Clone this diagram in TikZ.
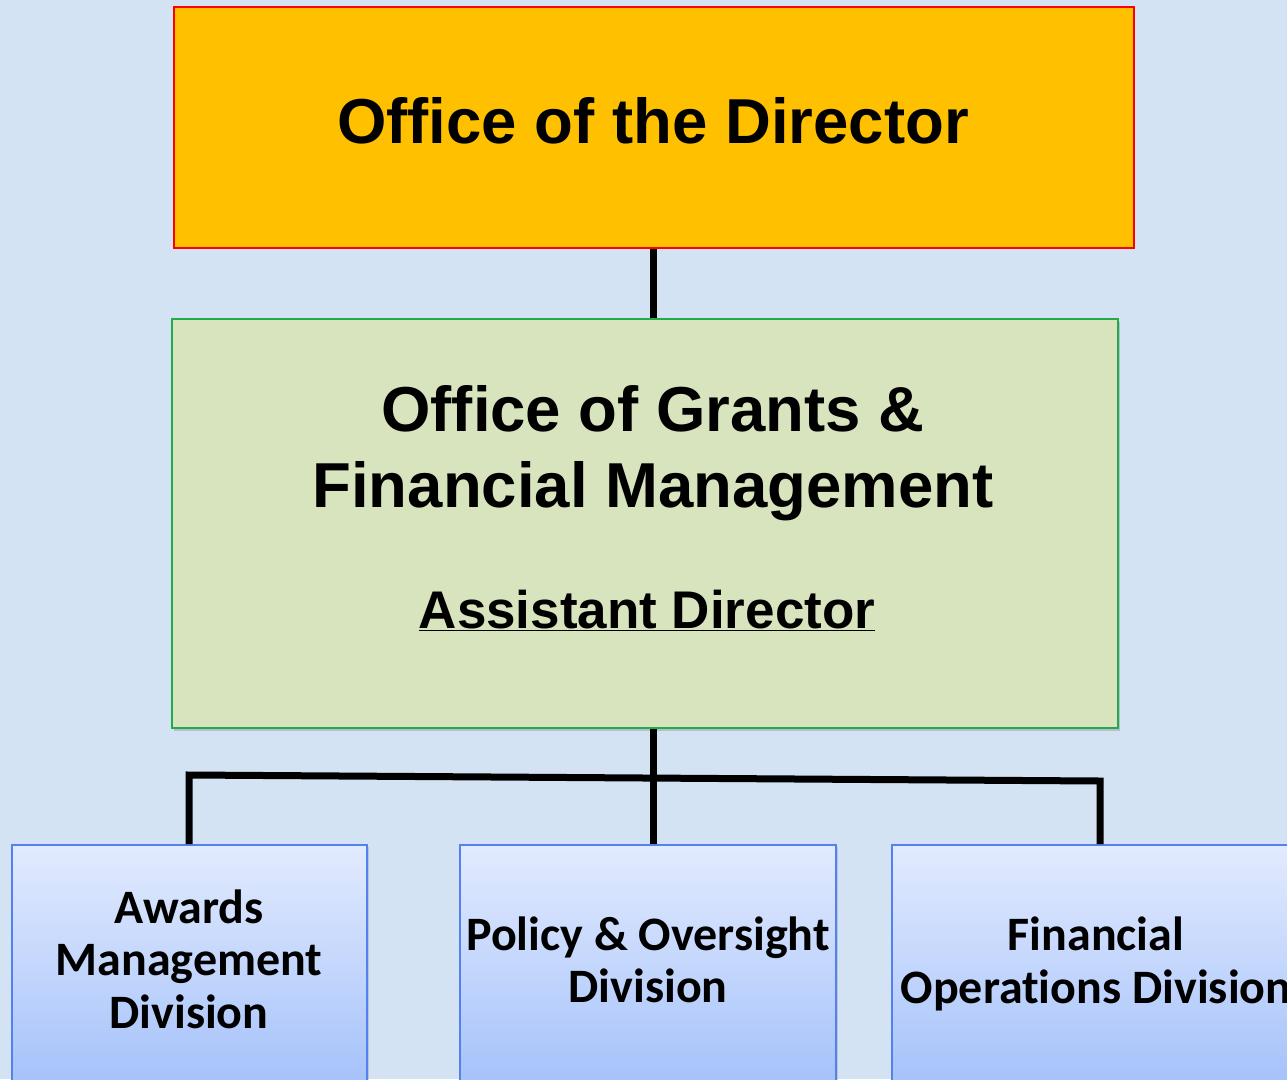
\documentclass[tikz,border=0pt]{standalone}
\usepackage{fontspec}
\setmainfont{Liberation Sans}
\newfontfamily\calib[Ligatures=NoCommon]{Carlito}
\usetikzlibrary{shadows,calc}
\definecolor{bg}{RGB}{211,227,243}
\definecolor{gold}{RGB}{255,192,0}
\definecolor{lgreen}{RGB}{215,228,189}
\definecolor{dgreen}{RGB}{34,170,76}
\definecolor{btop}{RGB}{226,235,254}
\definecolor{bbot}{RGB}{160,190,250}
\definecolor{bedge}{RGB}{84,128,240}
\tikzset{
  topbox/.style={draw=red, line width=1.5pt, fill=gold, rectangle, inner sep=0pt, anchor=north west},
  greenbox/.style={draw=dgreen, line width=2pt, fill=lgreen, rectangle, inner sep=0pt, anchor=north west,
    drop shadow={opacity=0.35, shadow xshift=2pt, shadow yshift=-3pt}},
  bluebox/.style={draw=bedge, line width=2pt, top color=btop, bottom color=bbot, rectangle, inner sep=0pt, anchor=north west,
    drop shadow={opacity=0.3, shadow xshift=2pt, shadow yshift=-2pt}},
  conn/.style={line width=7pt, black, line join=miter},
  bigtxt/.style={inner sep=0pt, anchor=base, font=\bfseries\fontsize{63.5}{76}\selectfont},
  subtxt/.style={inner sep=0pt, anchor=base, font=\bfseries\fontsize{53}{60}\selectfont},
  divtxt/.style={inner sep=0pt, anchor=center, align=center, font=\calib\bfseries\fontsize{48}{52.5}\selectfont}
}
\begin{document}
\begin{tikzpicture}[x=1pt,y=-1pt]
\useasboundingbox (0,0) rectangle (1287,1079);
\clip (0,0) rectangle (1287,1079);
\fill[bg] (0,0) rectangle (1287,1079);

% boxes
\node[topbox, minimum width=960pt, minimum height=241pt] (od) at (173,6) {};
\node[greenbox, minimum width=946pt, minimum height=409pt] (gm) at (171,318) {};
\node[bluebox, minimum width=355pt, minimum height=260pt] (aw) at (11,844) {};
\node[bluebox, minimum width=376pt, minimum height=260pt] (po) at (459,844) {};
\node[bluebox, minimum width=420pt, minimum height=260pt] (fo) at (891,844) {};

% texts
\node[bigtxt] (odt) at (653,143) {Office of the Director};
\node[bigtxt] (gmt1) at (653,431) {Office of Grants \&};
\node[bigtxt] (gmt2) at (653,507) {Financial Management};
\node[subtxt] (gmt3) at (647,628) {\underline{Assistant Director}};
\node[divtxt] (awt) at (189,959) {Awards\\Management\\Division};
\node[divtxt] (pot) at (648,960) {Policy \& Oversight\\Division};
\node[divtxt] (fot) at (1096,964) {Financial\\Operations Division};

% connectors
\coordinate (hl) at (189,775);
\coordinate (hr) at (1100,781);
\draw[conn] (od.south) -- (od.south |- gm.north);
\draw[conn] (od.south |- gm.south) -- (od.south |- po.north);
\draw[conn] (aw.north -| hl) -- (hl) -- (hr) -- (fo.north -| hr);
\end{tikzpicture}
\end{document}
